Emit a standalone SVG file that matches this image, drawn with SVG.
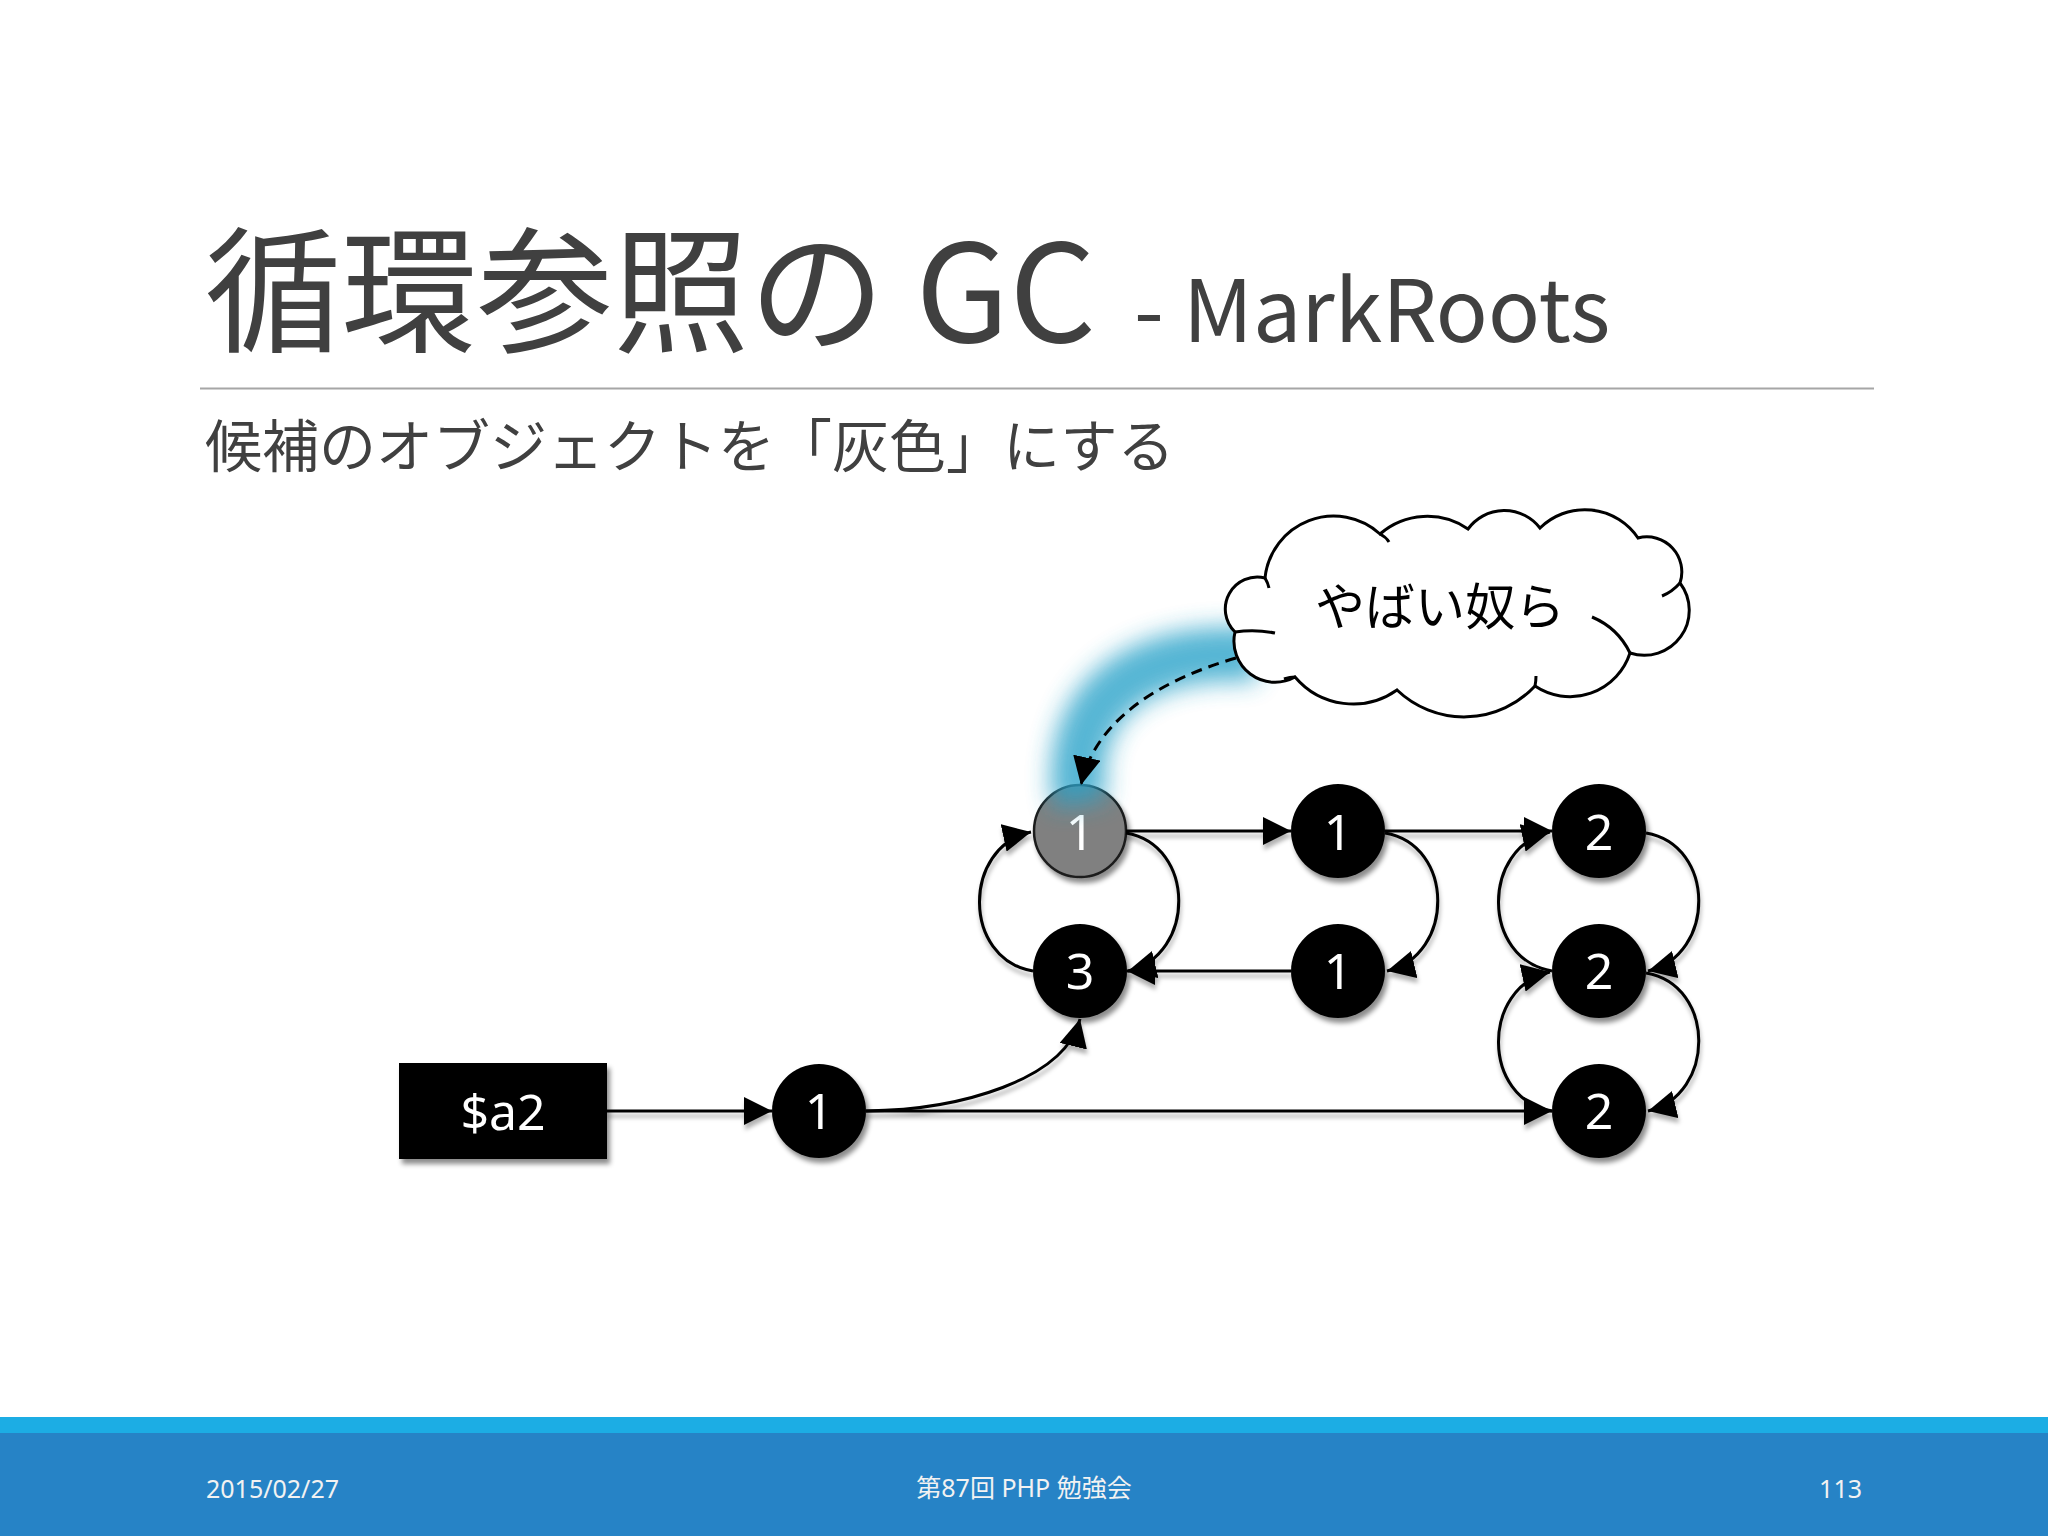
<svg xmlns="http://www.w3.org/2000/svg" width="2048" height="1536" viewBox="0 0 2048 1536">
<defs>
<style>
.title{font-family:"Noto Sans CJK JP","Noto Sans",sans-serif;fill:#404040}
.num{font-family:"Noto Sans","Open Sans",sans-serif;font-size:50px;fill:#ffffff;text-anchor:middle}
.foot{font-family:"Noto Sans","Noto Sans CJK JP",sans-serif;font-size:25px;fill:#f2f2f2}
.edge{fill:none;stroke:#000;stroke-width:3}
.node{fill:#000}
</style>
<marker id="arr" markerUnits="userSpaceOnUse" markerWidth="28" markerHeight="28" viewBox="0 0 28 28" refX="28" refY="14" orient="auto">
<path d="M0,0 L28,14 L0,28 Z" fill="#000"/>
</marker>
<filter id="sh" x="-20%" y="-20%" width="150%" height="150%">
<feDropShadow dx="3" dy="5" stdDeviation="2.5" flood-color="#000" flood-opacity="0.45"/>
</filter>
<filter id="lsh" x="-5%" y="-5%" width="110%" height="120%">
<feDropShadow dx="1" dy="5" stdDeviation="2" flood-color="#000" flood-opacity="0.3"/>
</filter>
<filter id="glow" x="-50%" y="-50%" width="200%" height="200%">
<feGaussianBlur stdDeviation="12"/>
</filter>
</defs>
<rect width="2048" height="1536" fill="#ffffff"/>

<g id="title">
<text class="title" x="205" y="342" font-size="136">循環参照の GC</text>
<text class="title" x="1134" y="342" font-size="86">- MarkRoots</text>
<line x1="200" y1="388.5" x2="1874" y2="388.5" stroke="#a6a6a6" stroke-width="2"/>
<text class="title" x="205" y="467" font-size="57">候補のオブジェクトを「灰色」にする</text>
</g>

<g id="node-a2" filter="url(#sh)">
<rect x="399" y="1063" width="208" height="96" fill="#000"/>
<text class="num" x="503" y="1130">$a2</text>
</g>
<g id="node-r3c0" filter="url(#sh)">
<circle class="node" cx="819" cy="1111" r="47"/>
<text class="num" x="819" y="1129">1</text>
</g>
<g id="node-r1c1" filter="url(#sh)">
<circle cx="1080" cy="831" r="46" fill="#808080" stroke="#1c1c1c" stroke-width="2.5"/>
<text class="num" x="1080" y="850">1</text>
</g>
<g id="node-r2c1" filter="url(#sh)">
<circle class="node" cx="1080" cy="971" r="47"/>
<text class="num" x="1080" y="989">3</text>
</g>
<g id="node-r1c2" filter="url(#sh)">
<circle class="node" cx="1338" cy="831" r="47"/>
<text class="num" x="1338" y="850">1</text>
</g>
<g id="node-r2c2" filter="url(#sh)">
<circle class="node" cx="1338" cy="971" r="47"/>
<text class="num" x="1338" y="989">1</text>
</g>
<g id="node-r1c3" filter="url(#sh)">
<circle class="node" cx="1599" cy="831" r="47"/>
<text class="num" x="1599" y="850">2</text>
</g>
<g id="node-r2c3" filter="url(#sh)">
<circle class="node" cx="1599" cy="971" r="47"/>
<text class="num" x="1599" y="989">2</text>
</g>
<g id="node-r3c3" filter="url(#sh)">
<circle class="node" cx="1599" cy="1111" r="47"/>
<text class="num" x="1599" y="1129">2</text>
</g>

<g id="glow-effect" opacity="0.8">
<path d="M1258,655 C1140,646 1064,700 1080,804" fill="none" stroke="#2aa3c9" stroke-width="54" stroke-linecap="butt" filter="url(#glow)"/>
</g>

<g id="cloud">
<path d="M1265,578 A69,69 0 0 1 1380,534 A72,72 0 0 1 1468,529 A45,45 0 0 1 1540,528 A64,64 0 0 1 1638,538 A35,35 0 0 1 1680,583 A45,45 0 0 1 1630,653 A63,63 0 0 1 1535,686 A97,97 0 0 1 1397,690 A76,76 0 0 1 1295,677 A41,41 0 0 1 1235,632 A32,32 0 0 1 1265,578 Z" fill="#ffffff" stroke="#000" stroke-width="3"/>
<path d="M1265,578 q3,5 4,10 M1380,534 q6,3 9,8 M1680,583 q-8,9 -18,13 M1630,653 q-12,-25 -38,-36 M1535,686 q1,-5 1,-10 M1295,677 q-5,0 -11,2 M1235,632 q20,-3 40,1" fill="none" stroke="#000" stroke-width="3"/>
<text x="1440" y="625" font-family="Noto Sans CJK JP,sans-serif" font-size="50" fill="#000" text-anchor="middle">やばい奴ら</text>
</g>

<g id="connectors">
<g filter="url(#lsh)">
<path class="edge" d="M607,1111 L772,1111" marker-end="url(#arr)"/>
<path class="edge" d="M866,1111 C960,1110 1065,1080 1080,1019" marker-end="url(#arr)"/>
<path class="edge" d="M866,1111 L1552,1111" marker-end="url(#arr)"/>
<path class="edge" d="M1126,831 L1291,831" marker-end="url(#arr)"/>
<path class="edge" d="M1385,831 L1552,831" marker-end="url(#arr)"/>
<path class="edge" d="M1291,971 L1127,971" marker-end="url(#arr)"/>
<path class="edge" d="M1126,833 C1196,845 1196,955 1128,971" marker-end="url(#arr)"/>
<path class="edge" d="M1033,971 C962,959 962,847 1031,832" marker-end="url(#arr)"/>
<path class="edge" d="M1385,833 C1455,845 1455,955 1387,971" marker-end="url(#arr)"/>
<path class="edge" d="M1646,833 C1716,845 1716,955 1648,971" marker-end="url(#arr)"/>
<path class="edge" d="M1552,971 C1481,959 1481,847 1550,832" marker-end="url(#arr)"/>
<path class="edge" d="M1646,973 C1716,985 1716,1095 1648,1111" marker-end="url(#arr)"/>
<path class="edge" d="M1552,1111 C1481,1099 1481,987 1550,972" marker-end="url(#arr)"/>
</g>
<path class="edge" d="M1236,658 C1160,680 1095,720 1081,785" stroke-dasharray="11,7" marker-end="url(#arr)"/>
</g>

<g id="footer">
<rect x="0" y="1417" width="2048" height="16" fill="#1cade4"/>
<rect x="0" y="1433" width="2048" height="103" fill="#2683c6"/>
<text class="foot" x="206" y="1498">2015/02/27</text>
<text class="foot" x="1024" y="1497" text-anchor="middle">第87回 PHP 勉強会</text>
<text class="foot" x="1862" y="1498" text-anchor="end">113</text>
</g>
</svg>
